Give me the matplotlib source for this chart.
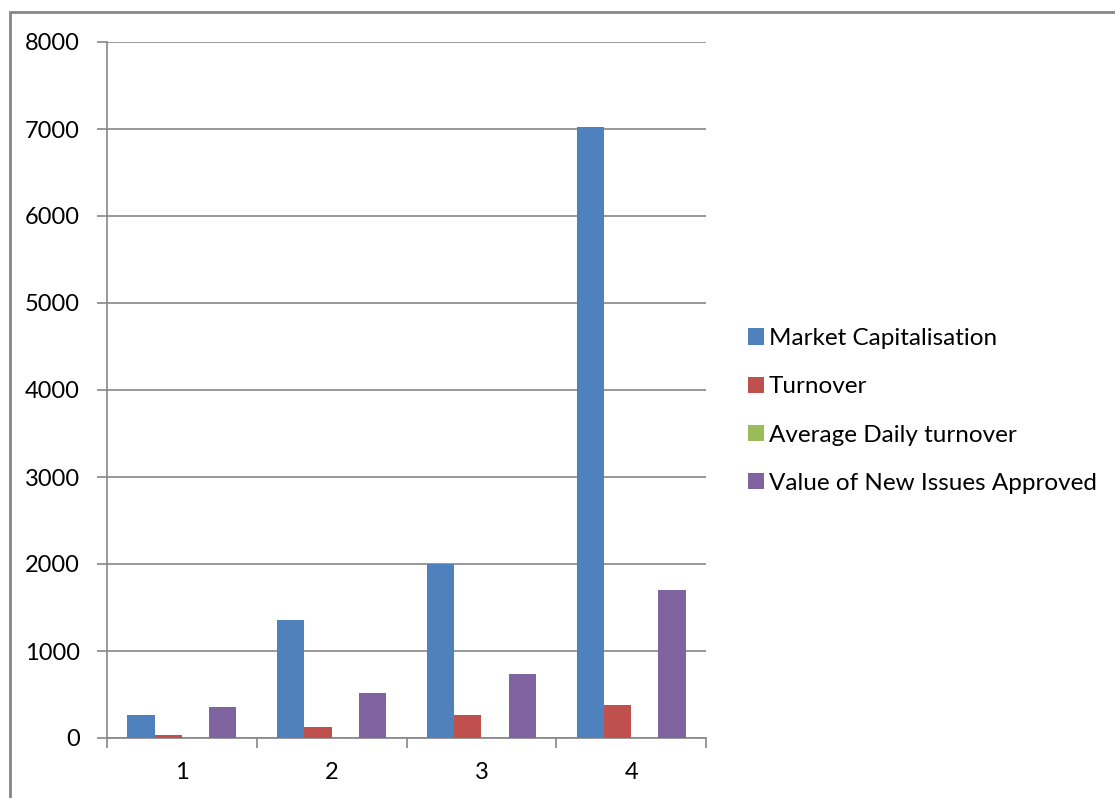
import numpy as np
import matplotlib.pyplot as plt
from matplotlib.patches import Rectangle

# данные
categories = ['1', '2', '3', '4']
series_names = ['Market Capitalisation', 'Turnover', 'Average Daily turnover',
                'Value of New Issues Approved']
market_cap = [260, 1360, 2000, 7020]
turnover = [40, 130, 260, 375]
avg_daily_turnover = [0, 0, 0, 0]
new_issues = [360, 520, 730, 1700]
y_ticks = [0, 1000, 2000, 3000, 4000, 5000, 6000, 7000, 8000]

colors = ['#4F81BD', '#C0504D', '#9BBB59', '#8064A2']
grid_color = '#868686'

plt.rcParams['font.family'] = ['Lato', 'DejaVu Sans']

fig = plt.figure(figsize=(11.15, 7.98), dpi=100)
ax = fig.add_axes([107 / 1115, 1 - 738 / 798, 599 / 1115, 696 / 798])

# рамка вокруг всей диаграммы
fig.patches.append(Rectangle((10 / 1115, -0.1), 1.2, 1 - 12 / 798 + 0.1,
                             transform=fig.transFigure, fill=False,
                             edgecolor=grid_color, linewidth=2))

x = np.arange(len(categories))
width = 1 / 5.5
all_series = [market_cap, turnover, avg_daily_turnover, new_issues]
for i, (vals, name) in enumerate(zip(all_series, series_names)):
    ax.bar(x + (i - 1.5) * width, vals, width, color=colors[i], label=name,
           zorder=3)

ax.set_xlim(-0.5, len(categories) - 0.5)
ax.set_ylim(0, 8000)
ax.set_yticks(y_ticks)
ax.yaxis.grid(True, color=grid_color, linewidth=1.2, zorder=0)

# деления между категориями, подписи в центре
ax.set_xticks(np.arange(len(categories) + 1) - 0.5)
ax.set_xticklabels([])
ax.set_xticks(x, minor=True)
ax.set_xticklabels(categories, minor=True)
ax.tick_params(axis='x', which='major', length=7, color=grid_color, width=1.2)
ax.tick_params(axis='x', which='minor', length=0, pad=17, labelsize=17)
ax.tick_params(axis='y', length=7, color=grid_color, width=1.2, pad=12.5,
               labelsize=17)

for side in ['top', 'right']:
    ax.spines[side].set_visible(False)
for side in ['left', 'bottom']:
    ax.spines[side].set_color(grid_color)
    ax.spines[side].set_linewidth(1.2)

fig.legend(loc='center left', bbox_to_anchor=(738 / 1115, 1 - 411 / 798),
           frameon=False, fontsize=17.5, handlelength=0.66, handleheight=0.66,
           handletextpad=0.2, labelspacing=1.12, borderaxespad=0)

fig.savefig('out.png', dpi=100)
